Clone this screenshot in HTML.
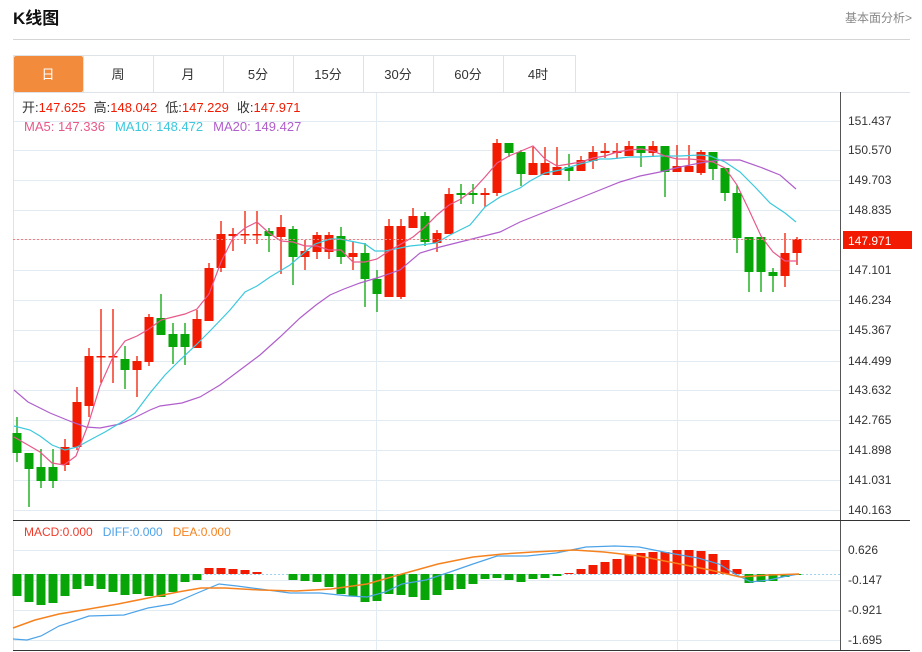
<!DOCTYPE html>
<html><head><meta charset="utf-8"><style>
html,body{margin:0;padding:0;background:#fff;width:922px;height:652px;overflow:hidden;font-family:"Liberation Sans","Noto Sans CJK SC",sans-serif}
</style></head><body>
<svg id="s" width="922" height="652" xmlns="http://www.w3.org/2000/svg" style="position:absolute;left:0;top:0;font-family:'Liberation Sans','Noto Sans CJK SC',sans-serif">
<text x="13" y="24" font-size="17" font-weight="bold" fill="#111">K线图</text>
<text x="912" y="22" font-size="12" fill="#888" text-anchor="end">基本面分析&gt;</text>
<line x1="13" y1="39.5" x2="910" y2="39.5" stroke="#d5d5d5"/>
<rect x="13.5" y="55.5" width="562" height="37" fill="#fff" stroke="#dde3e8"/>
<rect x="14" y="56" width="69" height="36" fill="#f28c3c" rx="2"/>
<g stroke="#dde3e8"><line x1="83.5" y1="56" x2="83.5" y2="92"/><line x1="153.5" y1="56" x2="153.5" y2="92"/><line x1="223.5" y1="56" x2="223.5" y2="92"/><line x1="293.5" y1="56" x2="293.5" y2="92"/><line x1="363.5" y1="56" x2="363.5" y2="92"/><line x1="433.5" y1="56" x2="433.5" y2="92"/><line x1="503.5" y1="56" x2="503.5" y2="92"/></g>
<g font-size="13" text-anchor="middle" fill="#333"><text x="48" y="79" fill="#fff">日</text><text x="118" y="79">周</text><text x="188" y="79">月</text><text x="258" y="79">5分</text><text x="328" y="79">15分</text><text x="398" y="79">30分</text><text x="468" y="79">60分</text><text x="538" y="79">4时</text></g>
<line x1="13.5" y1="92" x2="13.5" y2="650" stroke="#dde3e8"/>
<line x1="13" y1="92.5" x2="910" y2="92.5" stroke="#dde3e8"/>
<g id="grid" stroke="#e3ebf2"></g>
<line x1="840.5" y1="92" x2="840.5" y2="650" stroke="#555"/>
<line x1="13" y1="520.5" x2="910" y2="520.5" stroke="#333"/>
<line x1="13" y1="650.5" x2="910" y2="650.5" stroke="#333"/>
<g id="macd"></g>
<g id="cand"></g>
<g id="lines" fill="none"></g>
<line x1="13" y1="239.5" x2="840" y2="239.5" stroke="#f08080" stroke-dasharray="2,2"/>
<rect x="843" y="231" width="69" height="18" fill="#f21a00"/>
<text x="848" y="245" font-size="12" fill="#fff">147.971</text>
<g id="ax" font-size="12" fill="#333"></g>
<text y="112" font-size="13"><tspan x="22" fill="#333">开:</tspan><tspan fill="#f21a00">147.625</tspan><tspan dx="8" fill="#333">高:</tspan><tspan fill="#f21a00">148.042</tspan><tspan dx="8" fill="#333">低:</tspan><tspan fill="#f21a00">147.229</tspan><tspan dx="8" fill="#333">收:</tspan><tspan fill="#f21a00">147.971</tspan></text>
<text y="131" font-size="13"><tspan x="24" fill="#e8588a">MA5: 147.336</tspan><tspan dx="10" fill="#3cc8dd">MA10: 148.472</tspan><tspan dx="10" fill="#b05ecb">MA20: 149.427</tspan></text>
<text y="536" font-size="12"><tspan x="24" fill="#f03a2a">MACD:0.000</tspan><tspan dx="10" fill="#4da3e8">DIFF:0.000</tspan><tspan dx="10" fill="#f5821f">DEA:0.000</tspan></text>
</svg>
<script>
var NS="http://www.w3.org/2000/svg";
function el(p,t,a){var e=document.createElementNS(NS,t);for(var k in a)e.setAttribute(k,a[k]);document.getElementById(p).appendChild(e);return e;}
var py=[[121,"151.437"],[150,"150.570"],[180,"149.703"],[210,"148.835"],[270,"147.101"],[300,"146.234"],[330,"145.367"],[361,"144.499"],[390,"143.632"],[420,"142.765"],[450,"141.898"],[480,"141.031"],[510,"140.163"]];
py.forEach(function(p){el("grid","line",{x1:14,x2:840,y1:p[0]+.5,y2:p[0]+.5});var t=el("ax","text",{x:848,y:p[0]+4});t.textContent=p[1];});
[239].forEach(function(y){el("grid","line",{x1:14,x2:840,y1:y+.5,y2:y+.5});});
[[550,"0.626"],[580,"-0.147"],[610,"-0.921"],[640,"-1.695"]].forEach(function(p){el("grid","line",{x1:14,x2:840,y1:p[0]+.5,y2:p[0]+.5});var t=el("ax","text",{x:848,y:p[0]+4});t.textContent=p[1];});
[376.5,677.5].forEach(function(x){el("grid","line",{x1:x,x2:x,y1:93,y2:650});});
el("grid","line",{x1:14,x2:840,y1:574.5,y2:574.5,stroke:"#9fd3ee","stroke-dasharray":"2,2"});
// candles: [color, bodyTop, bodyBot, wickTop, wickBot]
var C=[["g",433,453,417,462],["g",453,469,453,507],["g",467,481,449,488],["g",467,481,449,488],["r",447,465,439,471],["r",402,447,387,450],["r",356,406,348,417],["r",356,357,309,383],["r",356,357,309,383],["g",359,370,346,389],["r",361,370,356,397],["r",317,362,314,366],["g",318,335,294,335],["g",334,347,323,364],["g",334,347,323,365],["r",319,348,310,348],["r",268,321,263,321],["r",234,268,221,272],["r",234,236,228,251],["r",234,235,211,244],["r",234,235,211,244],["g",231,236,228,252],["r",227,237,215,274],["g",229,257,226,285],["r",251,257,240,270],["r",235,252,232,259],["r",235,252,232,259],["g",236,257,227,264],["r",253,257,242,270],["g",253,279,243,307],["g",279,294,270,312],["r",226,297,219,297],["r",226,297,219,299],["r",216,228,208,228],["g",216,242,212,246],["r",233,243,230,252],["r",194,234,188,234],["g",193,195,184,204],["g",193,195,184,204],["r",193,195,188,207],["r",143,193,139,196],["g",143,153,143,157],["g",152,174,150,186],["r",163,175,147,175],["r",163,175,147,175],["r",167,175,147,175],["g",167,171,154,181],["r",160,171,156,171],["r",152,161,146,169],["r",151,153,143,158],["r",151,153,143,158],["r",146,156,141,156],["g",146,153,146,167],["r",146,153,141,157],["g",146,172,146,197],["r",166,172,145,172],["r",166,172,145,172],["r",152,173,150,175],["g",152,169,152,180],["g",168,193,168,201],["g",193,238,185,253],["g",237,272,237,292],["g",237,272,237,292],["g",272,276,268,292],["r",253,276,233,287],["r",239,253,237,265]];
C.forEach(function(c,i){var x=17+12*i,col=c[0]=="r"?"#f21a00":"#08a508";
el("cand","line",{x1:x,x2:x,y1:c[3],y2:c[4],stroke:col,"stroke-width":1.3});
el("cand","rect",{x:x-4.5,y:c[1],width:9,height:Math.max(1.5,c[2]-c[1]),fill:col});});
var M=[596,602,605,603,596,589,586,589,592,595,594,596,597,592,582,580,568,568,569,570,572,574.5,574,580,581,582,587,594,596,602,601,594,595,597,600,595,590,589,584,579,578,580,582,579,578,576,573,569,565,562,559,555,553,552,552,550,550,551,554,560,569,583,582,581,577,575];
M.forEach(function(v,i){var x=17+12*i,b=574;if(Math.abs(v-b)<1)return;var col=v>b?"#08a508":"#f21a00";
el("macd","rect",{x:x-4.5,y:Math.min(v,b),width:9,height:Math.abs(v-b),fill:col});});
function pl(pts,col,w){el("lines","polyline",{points:pts,stroke:col,"stroke-width":w||1.2});}
pl("14,390 28,402 50,413 72,422 86,427 100,428 120,424 134,418 150,410 160,406 182,403 200,397 220,385 240,370 260,355 280,337 300,318 316,305 330,295 344,289 360,283 380,277 400,270 420,253 440,247 460,242 480,237 500,232 520,222 540,214 560,206 580,198 600,190 620,182 640,176 660,172 680,167 700,163 720,160 740,160 760,167 780,175 796,189","#b05ecb");
pl("14,426 30,430 40,436 52,445 65,450 77,447 90,440 105,432 120,423 135,413 150,393 165,375 180,360 196,345 210,331 230,310 245,292 257,286 270,277 280,271 290,265 305,252 315,244 330,239 340,239 355,242 365,244 375,251 385,251 400,248 410,246 420,245 436,243 450,235 460,230 470,225 485,207 500,197 520,188 530,181 545,173 560,170 580,164 600,159 610,159 630,157 640,157 660,156 680,156 700,155 710,156 725,162 740,172 755,187 770,203 785,213 796,222","#3cc8dd");
pl("14,437 28,445 40,452 52,463 64,465 76,456 88,425 100,386 113,357 125,341 137,336 149,329 161,320 173,317 185,314 197,309 209,294 221,262 233,238 245,228 257,222 269,233 281,241 293,242 305,246 317,246 329,250 341,250 353,262 365,262 377,259 389,251 401,244 413,237 425,227 437,215 449,205 461,199 473,190 485,177 497,163 509,156 521,151 533,146 545,159 557,166 569,164 581,162 593,158 605,156 617,152 629,150 641,149 653,151 665,156 677,159 689,159 701,160 713,162 725,168 737,185 749,210 761,236 773,252 785,261 797,261","#e8588a");
pl("13,639 27,640 41,636 59,626 89,616 124,615 148,608 172,604 195,594 219,584 237,586 260,589 290,593 320,593 349,596 367,597 385,592 402,584 426,580 450,572 473,564 497,556 527,556 556,553 586,547 615,546 639,547 669,553 698,558 719,564 737,575 751,582 769,580 787,576 799,574","#4da3e8");
pl("13,628 35,620 59,614 89,609 118,604 148,598 178,592 201,588 225,588 260,590 296,591 331,589 367,584 402,574 438,564 473,557 503,554 533,552 574,550 604,552 639,556 675,563 710,570 740,577 769,575 799,574","#f5821f",1.5);
</script>
</body></html>
